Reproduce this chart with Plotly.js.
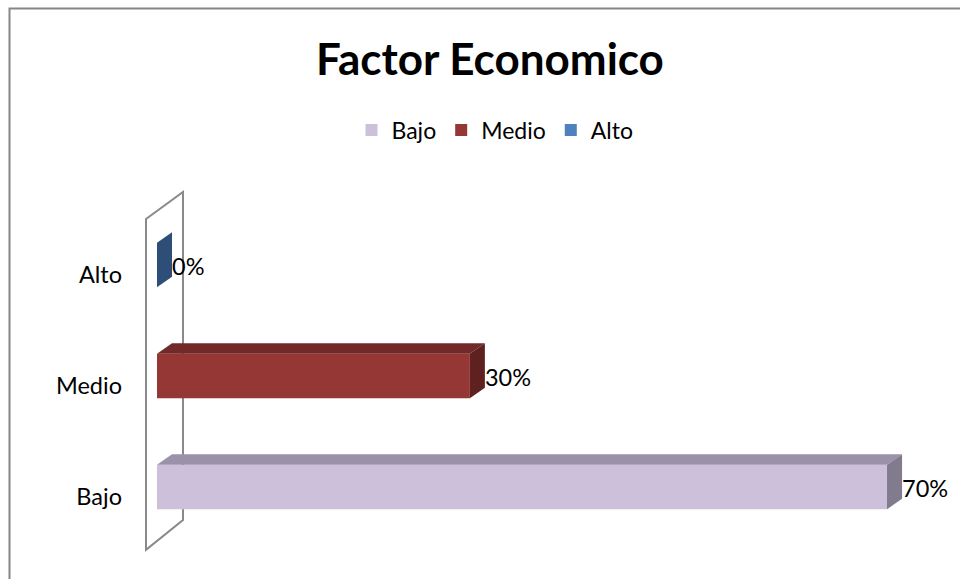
<!DOCTYPE html>
<html>
<head>
<meta charset="utf-8">
<script src="https://cdn.plot.ly/plotly-3.0.1.min.js"></script>
<style>
  html, body { margin: 0; padding: 0; background: #fff; }
  #chart { width: 960px; height: 579px; }
</style>
</head>
<body>
<div id="chart"></div>
<script>
// ---- data ----
const categories = ['Bajo', 'Medio', 'Alto'];
const values = [70, 30, 0];
const valueLabels = ['70%', '30%', '0%'];
const frontColors = ['#CCC0DA', '#953735', '#4F81BD'];
const topColors = ['#9B91A8', '#722A29', '#3B5F8C'];
const sideColors = ['#817B8D', '#5E2120', '#2E4E78'];
const legendColors = ['#CCC0DA', '#953735', '#4F81BD'];

// ---- geometry (3D look) ----
const barOffset = -0.11, barWidth = 0.40;
const depthX = 1.44, depthY = 0.095;
const labelShift = -0.035;
const FONT = 'Lato, "Open Sans", "Liberation Sans", sans-serif';

const traces = [];
// front faces
categories.forEach((c, i) => {
  traces.push({
    type: 'bar', orientation: 'h', name: c,
    y: [i], x: [values[i]],
    offset: barOffset, width: barWidth,
    marker: { color: frontColors[i], line: { width: 0 } },
    showlegend: false, hoverinfo: 'skip'
  });
});
// top and side faces
categories.forEach((c, i) => {
  const v = values[i];
  const y0 = i + barOffset, y1 = i + barOffset + barWidth;
  traces.push({
    type: 'scatter', mode: 'lines', fill: 'toself',
    x: [0, v, v + depthX, depthX, 0],
    y: [y1, y1, y1 + depthY, y1 + depthY, y1],
    fillcolor: topColors[i], line: { width: 0 },
    showlegend: false, hoverinfo: 'skip'
  });
  traces.push({
    type: 'scatter', mode: 'lines', fill: 'toself',
    x: [v, v, v + depthX, v + depthX, v],
    y: [y0, y1, y1 + depthY, y0 + depthY, y0],
    fillcolor: sideColors[i], line: { width: 0 },
    showlegend: false, hoverinfo: 'skip'
  });
});
// legend entries (order Bajo, Medio, Alto)
categories.forEach((c, i) => {
  traces.push({
    type: 'bar', orientation: 'h', name: c,
    y: [null], x: [null],
    marker: { color: legendColors[i] },
    showlegend: true, hoverinfo: 'skip'
  });
});
// value labels
traces.push({
  type: 'scatter', mode: 'text',
  x: values.map(v => v + depthX),
  y: categories.map((c, i) => i + barOffset + barWidth / 2 + labelShift),
  text: valueLabels, textposition: 'middle right',
  textfont: { family: FONT, size: 23.5, color: '#000' },
  showlegend: false, hoverinfo: 'skip', cliponaxis: false
});

const ml = 124, mr = 20, mt = 180, mb = 19;
const W = 960, H = 579;
const pw = W - ml - mr, ph = H - mt - mb;
const px2paperX = p => (p - ml) / pw;
const px2paperY = p => (H - mb - p) / ph;

const layout = {
  width: W, height: H,
  margin: { l: ml, r: mr, t: mt, b: mb, pad: 0 },
  paper_bgcolor: '#fff', plot_bgcolor: 'rgba(0,0,0,0)',
  barmode: 'overlay',
  showlegend: true,
  title: {
    text: 'Factor Economico', xref: 'container', x: 490 / W, xanchor: 'center',
    yref: 'container', y: 1 - 60 / H, yanchor: 'middle',
    font: { family: FONT, size: 44, color: '#000', weight: 'bold' }
  },
  legend: {
    orientation: 'h', x: px2paperX(495), xanchor: 'center',
    y: px2paperY(130), yanchor: 'middle',
    font: { family: FONT, size: 23, color: '#000' },
    traceorder: 'normal', itemclick: false
  },
  xaxis: {
    range: [-3.164, 75.08], showgrid: false, zeroline: false,
    showticklabels: false, showline: false, ticks: '', fixedrange: true
  },
  yaxis: {
    range: [-0.568, 2.856], showgrid: false, zeroline: false,
    tickvals: [0, 1, 2], ticktext: categories, ticks: '',
    tickfont: { family: FONT, size: 23.5, color: '#000' },
    showline: false, fixedrange: true, ticklabelstandoff: 1
  },
  shapes: [
    { type: 'path', xref: 'x', yref: 'y', layer: 'below',
      path: 'M -1.055 2.505 L 2.493 2.748 L 2.493 -0.207 L -1.055 -0.477 Z',
      line: { color: '#8A8A8A', width: 2 }, fillcolor: 'rgba(0,0,0,0)' },
    { type: 'rect', xref: 'paper', yref: 'paper', layer: 'above',
      x0: px2paperX(9.5), x1: px2paperX(1000), y0: px2paperY(8.5), y1: px2paperY(620),
      line: { color: '#868686', width: 2 }, fillcolor: 'rgba(0,0,0,0)' }
  ]
};

Plotly.newPlot('chart', traces, layout, { displayModeBar: false, staticPlot: true });
</script>
</body>
</html>
